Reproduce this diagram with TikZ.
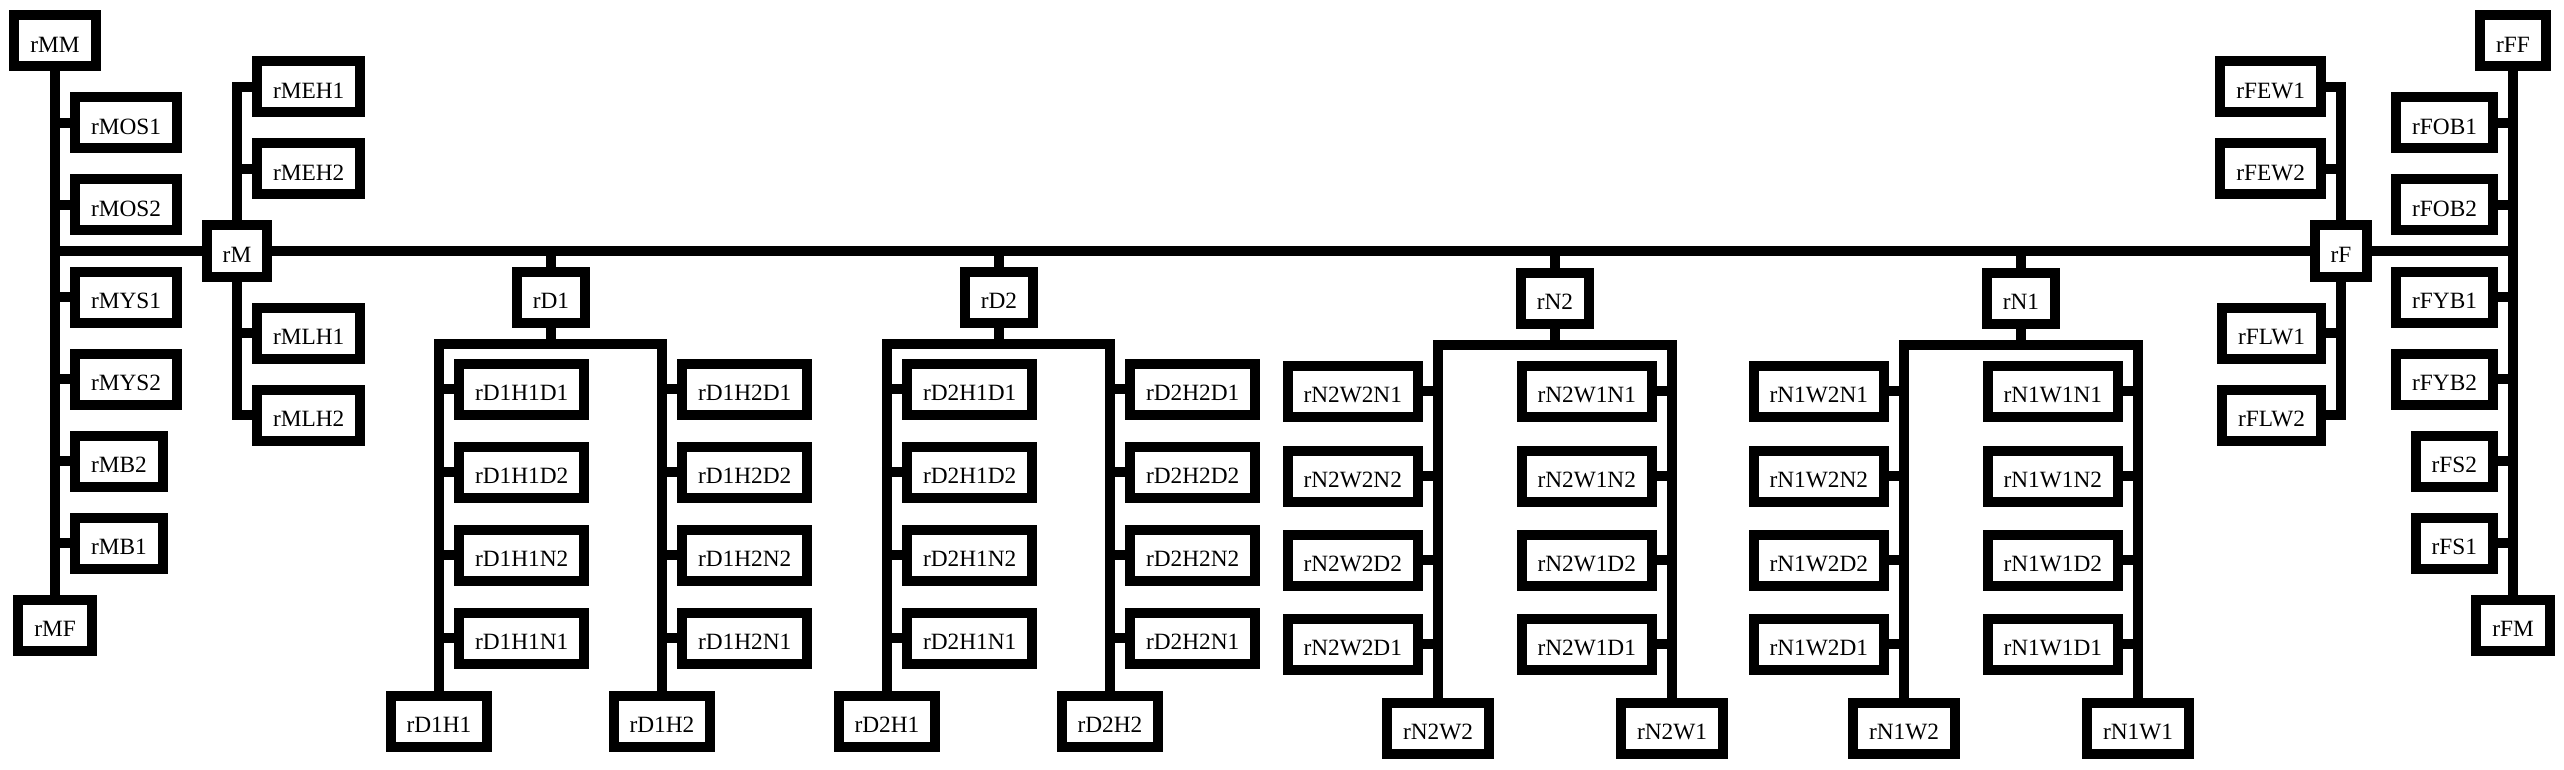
\documentclass[tikz,border=0pt]{standalone}
\usepackage{fontspec}
\setmainfont{Liberation Serif}
\usetikzlibrary{positioning,calc}
\tikzset{
	rbox/.style={draw, fill=white, line width=7.5pt, inner xsep=12pt, inner ysep=0pt,
		minimum height=38.25pt, text height=17pt, text depth=0pt,
		font=\fontsize{17.5}{20}\selectfont},
	link/.style={line width=7.5pt},
}
% hub with two columns of leaves on the right side of the lines
\newcommand{\dgroup}[2]{%
	\node[rbox] (#1) at (#2,297) {#1};
	\coordinate (#1bar) at (#2,344);
	\node[rbox] (#1H1) at (#2-112,721) {#1H1};
	\node[rbox] (#1H2) at (#2+111,721) {#1H2};
	\foreach \leaf/\row in {D1/389,D2/472,N2/555,N1/638}{
		\node[rbox,anchor=west] (#1H1\leaf) at (#2-97,\row) {#1H1\leaf};
		\node[rbox,anchor=west] (#1H2\leaf) at (#2+126,\row) {#1H2\leaf};
		\draw[link] (#1H1\leaf.west) -- (#1H1\leaf.west -| #1H1);
		\draw[link] (#1H2\leaf.west) -- (#1H2\leaf.west -| #1H2);
	}
	\draw[link] (#1.north) -- (#1.north |- rM);
	\draw[link] (#1.south) -- (#1bar);
	\draw[link] (#1H1.north) |- (#1bar) -| (#1H2.north);
}
% hub with two columns of leaves on the left side of the lines
\newcommand{\ngroup}[2]{%
	\node[rbox] (#1) at (#2,298) {#1};
	\coordinate (#1bar) at (#2,345);
	\node[rbox] (#1W2) at (#2-117,728) {#1W2};
	\node[rbox] (#1W1) at (#2+117,728) {#1W1};
	\foreach \leaf/\row in {N1/391,N2/476,D2/560,D1/644}{
		\node[rbox,anchor=east] (#1W2\leaf) at (#2-132,\row) {#1W2\leaf};
		\node[rbox,anchor=east] (#1W1\leaf) at (#2+102,\row) {#1W1\leaf};
		\draw[link] (#1W2\leaf.east) -- (#1W2\leaf.east -| #1W2);
		\draw[link] (#1W1\leaf.east) -- (#1W1\leaf.east -| #1W1);
	}
	\draw[link] (#1.north) -- (#1.north |- rM);
	\draw[link] (#1.south) -- (#1bar);
	\draw[link] (#1W2.north) |- (#1bar) -| (#1W1.north);
}

\begin{document}
\begin{tikzpicture}[x=0.75pt, y=-0.75pt]
	\useasboundingbox (0,0) rectangle (2564,770);
	
	% left spine
	\node[rbox] (rMM) at (55,41) {rMM};
	\node[rbox] (rMF) at (55,625) {rMF};
	\node[rbox,anchor=west] (rMOS1) at (70,123) {rMOS1};
	\node[rbox,anchor=west] (rMOS2) at (70,205) {rMOS2};
	\node[rbox,anchor=west] (rMYS1) at (70,297) {rMYS1};
	\node[rbox,anchor=west] (rMYS2) at (70,379) {rMYS2};
	\node[rbox,anchor=west] (rMB2) at (70,461) {rMB2};
	\node[rbox,anchor=west] (rMB1) at (70,543) {rMB1};
	\draw[link] (rMM.south) -- (rMF.north);
	\foreach \n in {rMOS1,rMOS2,rMYS1,rMYS2,rMB2,rMB1}
		\draw[link] (\n.west) -- (\n.west -| rMM);
	
	\node[rbox] (rM) at (237,251) {rM};
	\node[rbox,anchor=west] (rMEH1) at (252,87) {rMEH1};
	\node[rbox,anchor=west] (rMEH2) at (252,169) {rMEH2};
	\node[rbox,anchor=west] (rMLH1) at (252,333) {rMLH1};
	\node[rbox,anchor=west] (rMLH2) at (252,415) {rMLH2};
	\draw[link] (rMEH1.west) -| (rM.north);
	\draw[link] (rMLH2.west) -| (rM.south);
	\draw[link] (rMEH2.west) -- (rMEH2.west -| rM);
	\draw[link] (rMLH1.west) -- (rMLH1.west -| rM);
	
	% right spine
	\node[rbox] (rFF) at (2513,41) {rFF};
	\node[rbox] (rFM) at (2513,625) {rFM};
	\node[rbox,anchor=east] (rFOB1) at (2498,123) {rFOB1};
	\node[rbox,anchor=east] (rFOB2) at (2498,205) {rFOB2};
	\node[rbox,anchor=east] (rFYB1) at (2498,297) {rFYB1};
	\node[rbox,anchor=east] (rFYB2) at (2498,379) {rFYB2};
	\node[rbox,anchor=east] (rFS2) at (2498,461) {rFS2};
	\node[rbox,anchor=east] (rFS1) at (2498,543) {rFS1};
	\draw[link] (rFF.south) -- (rFM.north);
	\foreach \n in {rFOB1,rFOB2,rFYB1,rFYB2,rFS2,rFS1}
		\draw[link] (\n.east) -- (\n.east -| rFF);
	
	\node[rbox] (rF) at (2341,251) {rF};
	\node[rbox,anchor=east] (rFEW1) at (2326,87) {rFEW1};
	\node[rbox,anchor=east] (rFEW2) at (2326,169) {rFEW2};
	\node[rbox,anchor=east] (rFLW1) at (2326,333) {rFLW1};
	\node[rbox,anchor=east] (rFLW2) at (2326,415) {rFLW2};
	\draw[link] (rFEW1.east) -| (rF.north);
	\draw[link] (rFLW2.east) -| (rF.south);
	\draw[link] (rFEW2.east) -- (rFEW2.east -| rF);
	\draw[link] (rFLW1.east) -- (rFLW1.east -| rF);
	
	% main line
	\draw[link] (rM.west) -- (rM.west -| rMM);
	\draw[link] (rM.east) -- (rF.west);
	\draw[link] (rF.east) -- (rF.east -| rFF);
	
	\dgroup{rD1}{551}
	\dgroup{rD2}{999}
	\ngroup{rN2}{1555}
	\ngroup{rN1}{2021}
\end{tikzpicture}
\end{document}
